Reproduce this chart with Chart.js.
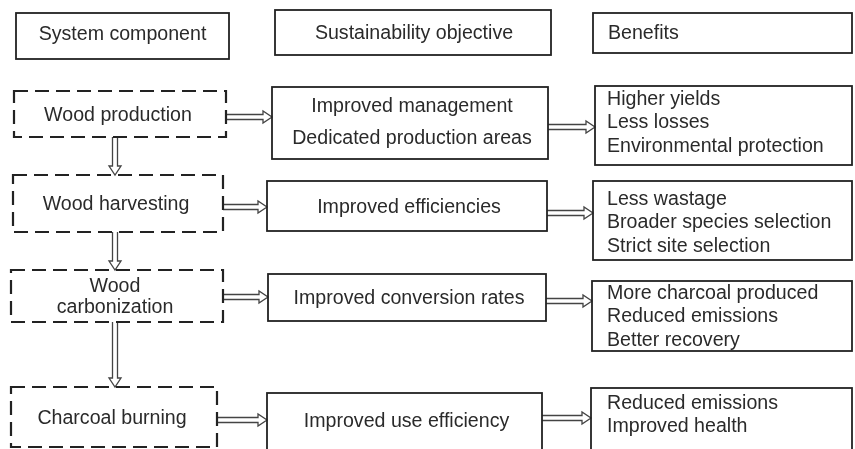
<!DOCTYPE html>
<html>
<head>
<meta charset="utf-8">
<script src="https://cdn.jsdelivr.net/npm/chart.js@4"></script>
<style>
  html, body { margin: 0; background: #fff; }
  #wrap { width: 855px; height: 449px; }
</style>
</head>
<body>
<div id="wrap"><canvas id="flow"></canvas></div>
<script>
// text content
const headers = ['System component', 'Sustainability objective', 'Benefits'];
const components = [['Wood production'], ['Wood harvesting'], ['Wood', 'carbonization'], ['Charcoal burning']];
const objectives = [
  ['Improved management', 'Dedicated production areas'],
  ['Improved efficiencies'],
  ['Improved conversion rates'],
  ['Improved use efficiency']
];
const benefits = [
  ['Higher yields', 'Less losses', 'Environmental protection'],
  ['Less wastage', 'Broader species selection', 'Strict site selection'],
  ['More charcoal produced', 'Reduced emissions', 'Better recovery'],
  ['Reduced emissions', 'Improved health']
];

// box extents in diagram units [x0, y0, x1, y1]
const headerBoxes = [[16, 13, 229, 59], [275, 10, 551, 55], [593, 13, 852, 53]];
const compBoxes = [[14, 91, 226, 137], [13, 175, 223, 232], [11, 270, 223, 322], [11, 387, 217, 447]];
const objBoxes = [[272, 87, 548, 159], [267, 181, 547, 231], [268, 274, 546, 321], [267, 393, 542, 465]];
const benBoxes = [[595, 86, 852, 165], [593, 181, 852, 260], [592, 281, 852, 351], [591, 388, 852, 465]];
// arrow rows
const arrowY1 = [117, 207, 297, 420];
const arrowY2 = [127, 213, 301, 418];
const downX = 115;

const FONT = '19.6px "Liberation Sans", Arial, sans-serif';
const INK = '#222';
const TEXT_INK = '#2a2a2a';

function px(chart, x, y) {
  return [chart.scales.x.getPixelForValue(x), chart.scales.y.getPixelForValue(y)];
}

function box(ctx, chart, b, dashed) {
  const [x0, y0] = px(chart, b[0], b[1]);
  const [x1, y1] = px(chart, b[2], b[3]);
  ctx.save();
  ctx.strokeStyle = INK;
  ctx.lineWidth = dashed ? 2.2 : 1.8;
  if (dashed) ctx.setLineDash([14, 7]);
  ctx.strokeRect(x0, y0, x1 - x0, y1 - y0);
  ctx.restore();
}

function text(ctx, chart, lines, x, yTop, gap, align) {
  ctx.save();
  ctx.font = FONT;
  ctx.fillStyle = TEXT_INK;
  ctx.textAlign = align;
  ctx.textBaseline = 'middle';
  lines.forEach((l, i) => {
    const [tx, ty] = px(chart, x, yTop + i * gap + 1.5);
    ctx.fillText(l, tx, ty);
  });
  ctx.restore();
}

// hollow double-line arrow, horizontal or vertical
function arrow(ctx, chart, xa, ya, xb, yb) {
  const [x0, y0] = px(chart, xa, ya);
  const [x1, y1] = px(chart, xb, yb);
  const len = Math.hypot(x1 - x0, y1 - y0);
  const ang = Math.atan2(y1 - y0, x1 - x0);
  ctx.save();
  ctx.translate(x0, y0);
  ctx.rotate(ang);
  ctx.beginPath();
  ctx.moveTo(0, -2.5);
  ctx.lineTo(len - 9, -2.5);
  ctx.lineTo(len - 9, -6);
  ctx.lineTo(len, 0);
  ctx.lineTo(len - 9, 6);
  ctx.lineTo(len - 9, 2.5);
  ctx.lineTo(0, 2.5);
  ctx.fillStyle = '#fff';
  ctx.fill();
  ctx.strokeStyle = '#444';
  ctx.lineWidth = 1.3;
  ctx.stroke();
  ctx.restore();
}

const flowPlugin = {
  id: 'flow',
  afterDraw(chart) {
    const ctx = chart.ctx;
    // headers
    headerBoxes.forEach((b) => box(ctx, chart, b, false));
    text(ctx, chart, [headers[0]], (headerBoxes[0][0] + headerBoxes[0][2]) / 2, 33, 0, 'center');
    text(ctx, chart, [headers[1]], (headerBoxes[1][0] + headerBoxes[1][2]) / 2 + 1, 32, 0, 'center');
    text(ctx, chart, [headers[2]], 608, 32, 0, 'left');

    components.forEach((lines, i) => {
      const c = compBoxes[i], o = objBoxes[i], b = benBoxes[i];
      // arrows first so boxes sit on top
      arrow(ctx, chart, c[2], arrowY1[i], o[0], arrowY1[i]);
      arrow(ctx, chart, o[2], arrowY2[i], b[0], arrowY2[i]);
      if (i < components.length - 1) {
        arrow(ctx, chart, downX, c[3], downX, compBoxes[i + 1][1]);
      }
      box(ctx, chart, c, true);
      box(ctx, chart, o, false);
      box(ctx, chart, b, false);

      const cMid = (c[1] + c[3]) / 2;
      const cGap = 21;
      text(ctx, chart, lines, (c[0] + c[2]) / 2 - 2, cMid - (lines.length - 1) * cGap / 2, cGap, 'center');

      const oGap = 32;
      const oMid = i === 0 ? 121 : (o[1] + Math.min(o[3], 449)) / 2;
      const oy = i === 3 ? 420 : oMid - (objectives[i].length - 1) * oGap / 2;
      text(ctx, chart, objectives[i], (o[0] + o[2]) / 2 + 2, oy, oGap, 'center');

      const bStart = [98, 198, 292, 402][i];
      text(ctx, chart, benefits[i], 607, bStart, 23.5, 'left');
    });
  }
};

new Chart(document.getElementById('flow'), {
  type: 'scatter',
  data: { datasets: [{ data: [], pointRadius: 0 }] },
  options: {
    responsive: true,
    maintainAspectRatio: false,
    animation: false,
    layout: { padding: 0 },
    plugins: { legend: { display: false }, tooltip: { enabled: false } },
    scales: {
      x: { type: 'linear', min: 0, max: 855, display: false },
      y: { type: 'linear', min: 0, max: 449, reverse: true, display: false }
    }
  },
  plugins: [flowPlugin]
});
</script>
</body>
</html>
